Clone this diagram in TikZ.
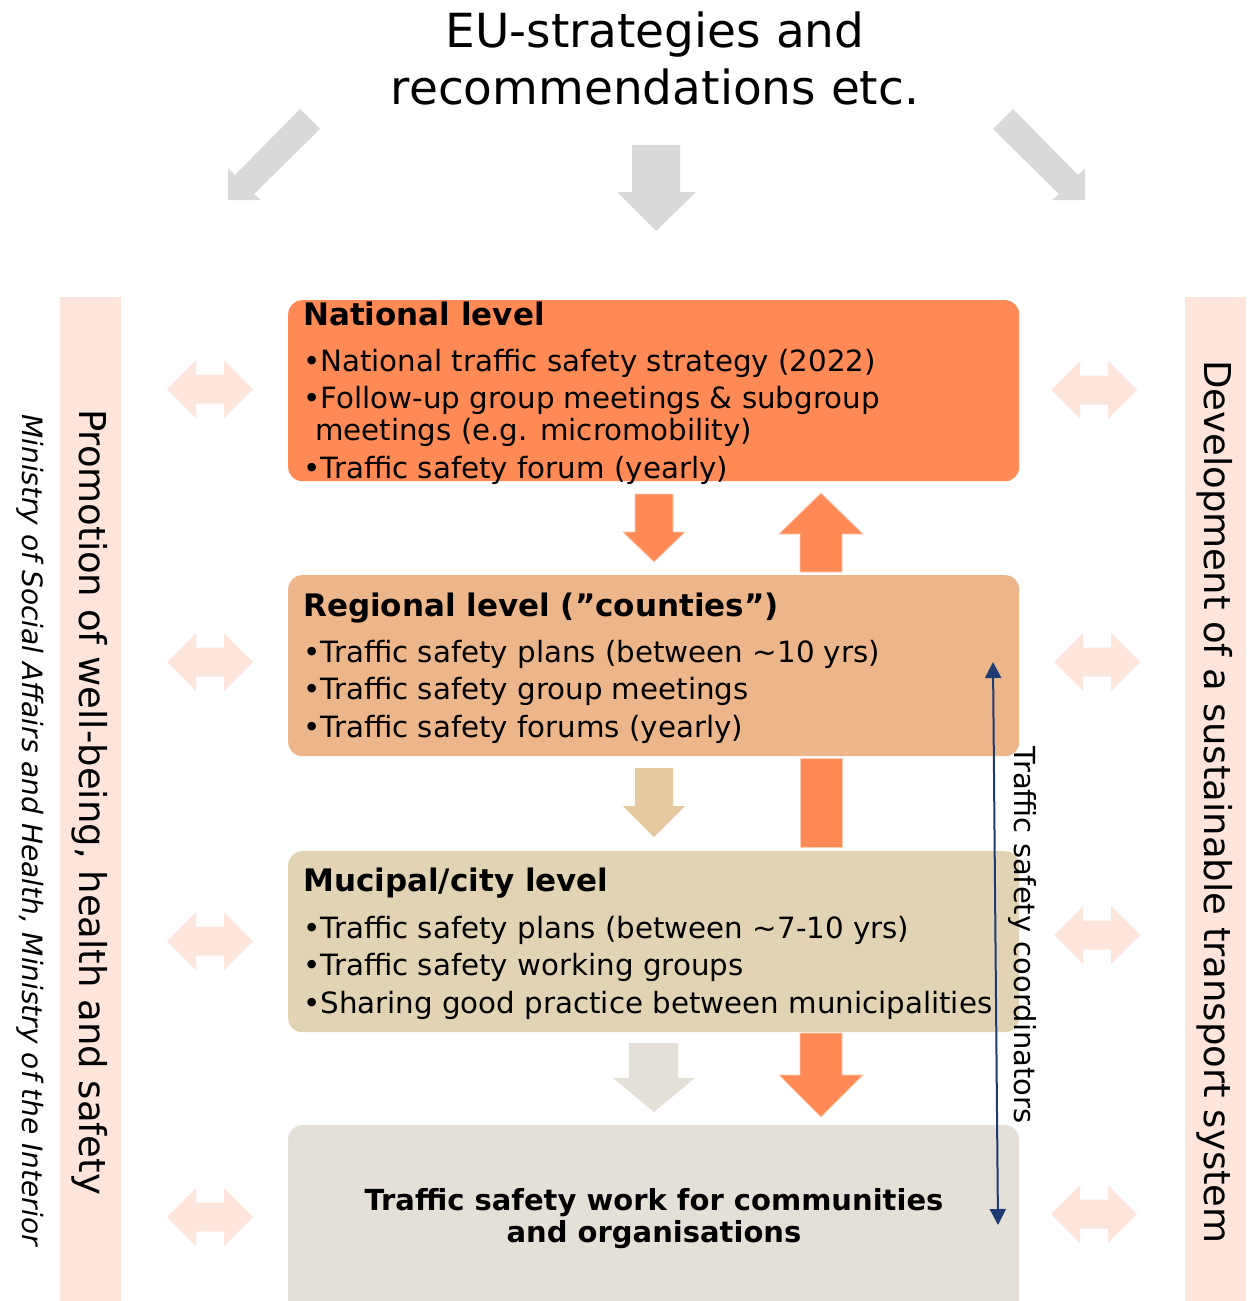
\documentclass[tikz,border=0pt]{standalone}
\usepackage{fontspec}
\setmainfont{DejaVu Sans}
\usetikzlibrary{arrows.meta}

\definecolor{national}{HTML}{FF8A55}
\definecolor{regional}{HTML}{ECB68A}
\definecolor{municipal}{HTML}{E3D3B5}
\definecolor{community}{HTML}{E4E0D7}
\definecolor{eugrey}{HTML}{D9D9D9}
\definecolor{tanarrow}{HTML}{E6C9A0}
\definecolor{peach}{HTML}{FDE5DC}
\definecolor{coordblue}{HTML}{1F3B73}

\begin{document}
\begin{tikzpicture}[x = 1pt, y = -1pt, > = {Triangle[length = 16pt, width = 16pt]},
	levelbox/.style = {rounded corners = 14pt, inner sep = 0pt, anchor = north west, minimum width = 731pt, minimum height = 181pt},
	leveltitle/.style = {anchor = base west, inner sep = 0pt, font = \fontsize{31}{37}\selectfont\bfseries},
	leveltext/.style = {anchor = north west, inner sep = 0pt, align = left, font = \fontsize{29.3}{37.5}\selectfont},
	sidetext/.style = {rotate = -90, inner sep = 0pt, font = \fontsize{37}{44}\selectfont},
	levelarrow/.style = {draw = white!55!national, line width = 0.8pt}]

	\clip (0, 0) rectangle (1258, 1301);
	\fill [white] (0, 0) rectangle (1258, 1301);

	% EU level with its three arrows

	\node [font = \fontsize{47}{57}\selectfont, align = center, inner sep = 0pt] (eu) at (655, 58) {EU-strategies and\\recommendations etc.};

	\fill [eugrey] (228, 200) -- (228, 168) -- (235, 175) -- (300, 109) -- (320, 129) -- (254, 194) -- (261, 200) -- cycle;
	\fill [eugrey] (1085, 200) -- (1085, 168) -- (1078, 175) -- (1013, 109) -- (993, 129) -- (1059, 194) -- (1052, 200) -- cycle;
	\fill [eugrey] (632, 145) -- (680, 145) -- (680, 192) -- (696, 192) -- (656, 231) -- (617, 192) -- (632, 192) -- cycle;

	% Side strips

	\fill [peach] (60, 297) rectangle (121, 1301);
	\fill [peach] (1185, 297) rectangle (1246, 1301);
	\node [sidetext] (wellbeing) at (90, 802) {Promotion of well-being, health and safety};
	\node [sidetext] (transport) at (1215, 802) {Development of a sustainable transport system};
	\node [sidetext, font = \fontsize{28}{34}\selectfont\itshape] (ministry) at (30, 830) {Ministry of Social Affairs and Health, Ministry of the Interior};

	% Double arrows towards the strips

	\foreach \x / \y in {210/389, 210/662, 210/941, 210/1217, 1094/390, 1097/662, 1097/935, 1094/1214}
		\fill [peach, shift = {(\x, \y)}] (-43, 0) -- (-14, -29) -- (-14, -14.5) -- (14, -14.5) -- (14, -29) -- (43, 0)
			-- (14, 29) -- (14, 14.5) -- (-14, 14.5) -- (-14, 29) -- cycle;

	% Levels

	\node [levelbox, fill = national] (national) at (288, 300) {};
	\node [levelbox, fill = regional] (regional) at (288, 575) {};
	\node [levelbox, fill = municipal] (municipal) at (288, 851) {};
	\node [levelbox, fill = community, minimum height = 240pt] (community) at (288, 1125) {};

	\node [leveltitle] (nationaltitle) at (303, 325) {National level};
	\node [leveltext] (nationaltext) at (303, 349) {\textbullet National traffic safety strategy (2022)\\
		\textbullet Follow-up group meetings \& subgroup\\[-5.5pt]
		\hspace{12pt}meetings (e.g. micromobility)\\
		\textbullet Traffic safety forum (yearly)};

	\node [leveltitle] (regionaltitle) at (303, 616) {Regional level (”counties”)};
	\node [leveltext] (regionaltext) at (303, 640) {\textbullet Traffic safety plans (between \textasciitilde 10 yrs)\\
		\textbullet Traffic safety group meetings\\
		\textbullet Traffic safety forums (yearly)};

	\node [leveltitle] (municipaltitle) at (303, 891) {Mucipal/city level};
	\node [leveltext] (municipaltext) at (303, 916) {\textbullet Traffic safety plans (between \textasciitilde 7-10 yrs)\\
		\textbullet Traffic safety working groups\\
		\textbullet Sharing good practice between municipalities};

	\node [font = \fontsize{29}{32}\selectfont\bfseries, align = center, inner sep = 0pt] (work) at (654, 1219) {Traffic safety work for communities\\and organisations};

	% Arrows between the levels

	\filldraw [levelarrow, fill = national] (635, 494) -- (673, 494) -- (673, 532) -- (685, 532) -- (654, 562) -- (623, 532) -- (635, 532) -- cycle;
	\filldraw [levelarrow, fill = national] (800, 572) -- (842, 572) -- (842, 534) -- (863, 534) -- (821, 493) -- (779, 534) -- (800, 534) -- cycle;
	\fill [tanarrow] (635, 768) -- (673, 768) -- (673, 806) -- (685, 806) -- (654, 837) -- (623, 806) -- (635, 806) -- cycle;
	\filldraw [levelarrow, fill = national] (800, 758) rectangle (842, 847);
	\fill [community] (629, 1043) -- (678, 1043) -- (678, 1078) -- (695, 1078) -- (654, 1112) -- (613, 1078) -- (629, 1078) -- cycle;
	\filldraw [levelarrow, fill = national] (800, 1033) -- (842, 1033) -- (842, 1075) -- (863, 1075) -- (821, 1117) -- (779, 1075) -- (800, 1075) -- cycle;

	% Traffic safety coordinators

	\coordinate (coordtop) at (993, 662);
	\coordinate (coordbottom) at (998, 1225);
	\draw [coordblue, line width = 2pt, <->] (coordtop) -- (coordbottom);
	\node [sidetext, font = \fontsize{29}{34}\selectfont] (coordinators) at (1022, 935) {Traffic safety coordinators};

\end{tikzpicture}
\end{document}
